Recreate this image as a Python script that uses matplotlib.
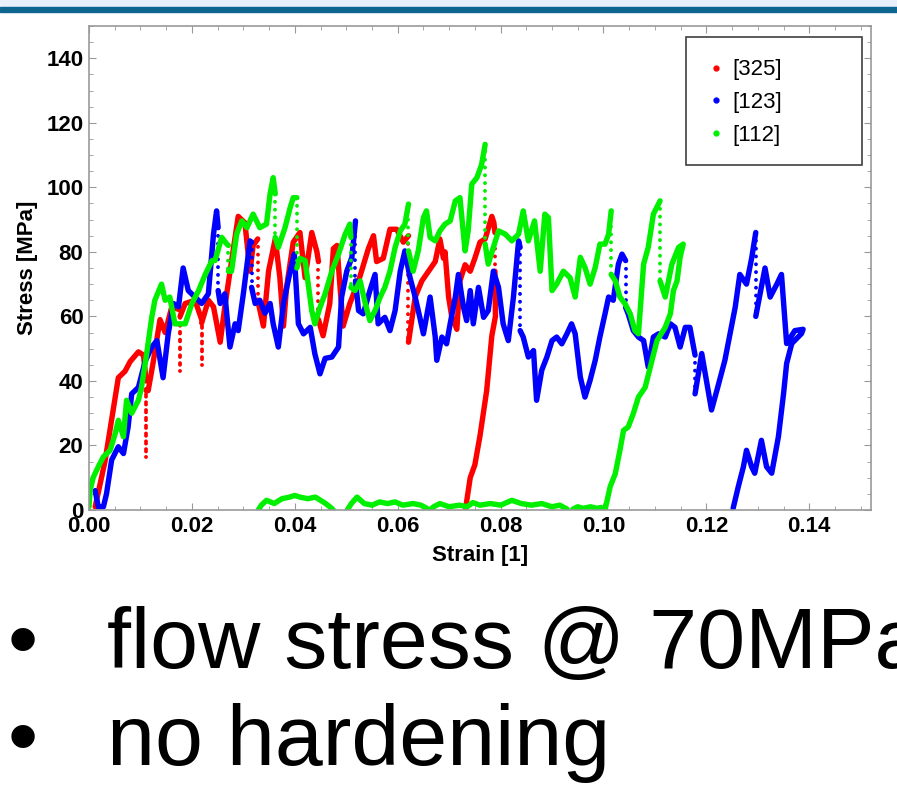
# stress-strain curves for three grain orientations

import numpy as np
import matplotlib.pyplot as plt
from matplotlib.patches import Rectangle
from matplotlib.ticker import MultipleLocator, FormatStrFormatter

plt.rcParams['font.family'] = ['Liberation Sans', 'DejaVu Sans']

# [325]
red_strain = [0.0012, 0.0031, 0.0044, 0.0057, 0.0070, 0.0080, 0.0096, 0.0106, 0.0111, 0.0111,
              0.0111, 0.0115, 0.0125, 0.0138, 0.0148, 0.0161, 0.0177, 0.0177, 0.0177, 0.0187,
              0.0206, 0.0219, 0.0219, 0.0219, 0.0232, 0.0242, 0.0255, 0.0264, 0.0277, 0.0290,
              0.0303, 0.0313, 0.0319, 0.0328, 0.0328, 0.0339, 0.0349, 0.0362, 0.0371, 0.0378,
              0.0384, 0.0397, 0.0410, 0.0420, 0.0433, 0.0443, 0.0446, 0.0446, 0.0455, 0.0468,
              0.0475, 0.0482, 0.0488, 0.0494, 0.0507, 0.0524, 0.0543, 0.0553, 0.0559, 0.0572,
              0.0585, 0.0598, 0.0611, 0.0621, 0.0621, 0.0634, 0.0647, 0.0673, 0.0682, 0.0689,
              0.0692, 0.0699, 0.0705, 0.0715, 0.0721, 0.0731, 0.0741, 0.0750, 0.0760, 0.0770,
              0.0783, 0.0787, 0.0789, 0.0789, 0.0790, 0.0783, 0.0773, 0.0760, 0.0750, 0.0741,
              0.0732]
red_stress = [1, 15, 28, 41, 43, 46, 49, 48, 40, 16.5,
              37, 37, 46, 59, 55, 63, 62, 43, 60, 64,
              65, 59, 45, 58, 65, 63, 52, 63, 77, 91,
              89, 74, 82, 84, 65, 57, 74, 84, 72, 57,
              69, 83, 86, 72, 86, 80, 77, 59, 54, 64,
              81, 82, 69, 57, 64, 71, 81, 85, 77, 78,
              87, 87, 83, 85, 52, 66, 71, 77, 84, 78,
              80, 66, 60, 56, 71, 76, 74, 78, 83, 84,
              91, 89, 86, 74, 60, 54, 37, 23, 14, 10,
              0.5]

# [123]
blue_strain = [0.0012, 0.0018, 0.0028, 0.0034, 0.0044, 0.0057, 0.0067, 0.0076, 0.0083, 0.0096,
               0.0109, 0.0122, 0.0132, 0.0144, 0.0154, 0.0164, 0.0174, 0.0183, 0.0193, 0.0206,
               0.0219, 0.0232, 0.0242, 0.0248, 0.0251, 0.0251, 0.0255, 0.0264, 0.0274, 0.0284,
               0.0290, 0.0300, 0.0313, 0.0316, 0.0316, 0.0323, 0.0332, 0.0342, 0.0352, 0.0358,
               0.0368, 0.0378, 0.0391, 0.0399, 0.0407, 0.0417, 0.0430, 0.0439, 0.0449, 0.0459,
               0.0472, 0.0485, 0.0491, 0.0501, 0.0511, 0.0518, 0.0518, 0.0524, 0.0533, 0.0546,
               0.0556, 0.0562, 0.0575, 0.0585, 0.0595, 0.0605, 0.0614, 0.0624, 0.0634, 0.0643,
               0.0650, 0.0663, 0.0673, 0.0676, 0.0686, 0.0695, 0.0702, 0.0712, 0.0718, 0.0728,
               0.0734, 0.0741, 0.0747, 0.0757, 0.0767, 0.0776, 0.0786, 0.0796, 0.0805, 0.0815,
               0.0825, 0.0835, 0.0838, 0.0838, 0.0844, 0.0854, 0.0864, 0.0870, 0.0880, 0.0890,
               0.0900, 0.0909, 0.0919, 0.0929, 0.0938, 0.0945, 0.0955, 0.0964, 0.0974, 0.0984,
               0.0993, 0.1003, 0.1010, 0.1019, 0.1029, 0.1036, 0.1043, 0.1043, 0.1048, 0.1058,
               0.1068, 0.1078, 0.1087, 0.1097, 0.1107, 0.1120, 0.1130, 0.1139, 0.1149, 0.1159,
               0.1168, 0.1178, 0.1178, 0.1191, 0.1210, 0.1222, 0.1236, 0.1256, 0.1265, 0.1278,
               0.1288, 0.1296, 0.1296, 0.1314, 0.1324, 0.1337, 0.1346, 0.1356, 0.1372, 0.1388,
               0.1385, 0.1366, 0.1356, 0.1350, 0.1340, 0.1327, 0.1317, 0.1307, 0.1294, 0.1288,
               0.1278, 0.1272, 0.1262, 0.1252]
blue_stress = [6, 1, 1, 5, 15.5, 19.6, 17.5, 25.7, 36, 38,
               46, 50.5, 52.5, 41, 54.6, 64, 63, 75, 68, 66,
               64, 67, 85.5, 92.7, 87.5, 68, 64, 67, 50.5, 57.7,
               55.6, 67, 83.4, 83, 69, 64, 65, 61, 64, 57.7,
               50.5, 64, 74, 79.3, 57.7, 54.6, 56.6, 48.4, 42.2, 47,
               47.4, 50.5, 66, 74, 78.3, 89.6, 71, 61.8, 60.8, 68,
               73, 57.7, 59.7, 55.6, 61.8, 74, 80.3, 72, 66, 59.7,
               54.6, 66, 53.6, 46.4, 53.6, 51.5, 57.7, 66, 73, 62.8,
               58.7, 68, 57.7, 69, 59.7, 61.8, 74, 69, 57.7, 52.5,
               66, 83.4, 81.4, 55.6, 53.6, 47.4, 49.4, 34, 43.3, 47.4,
               52.5, 53.6, 51.5, 54.6, 57.7, 54.6, 41.2, 35, 40.2, 46.4,
               53.6, 60.8, 66, 65, 76.2, 79.3, 77.3, 62.8, 60.8, 55.6,
               53.6, 52.5, 44.3, 53.6, 54.6, 53.6, 57.7, 56.6, 50.5, 56.6,
               56.6, 48, 36, 48.5, 31, 38, 46.4, 62.8, 73, 70,
               78, 86, 60, 75, 66, 70, 73, 51.6, 55.6, 56,
               54.7, 51.6, 45.4, 36, 22.7, 11.4, 13.4, 21.6, 11.4, 13.4,
               18.5, 13.4, 7.2, 0.5]

# [112]
green_strain = [0.0000, 0.0002, 0.0008, 0.0018, 0.0028, 0.0041, 0.0051, 0.0057, 0.0067, 0.0073,
                0.0083, 0.0096, 0.0102, 0.0112, 0.0122, 0.0128, 0.0141, 0.0148, 0.0157, 0.0167,
                0.0177, 0.0187, 0.0200, 0.0213, 0.0226, 0.0239, 0.0245, 0.0258, 0.0268, 0.0271,
                0.0271, 0.0277, 0.0287, 0.0297, 0.0307, 0.0319, 0.0332, 0.0345, 0.0352, 0.0358,
                0.0362, 0.0362, 0.0368, 0.0381, 0.0391, 0.0397, 0.0404, 0.0404, 0.0410, 0.0420,
                0.0433, 0.0439, 0.0449, 0.0459, 0.0472, 0.0485, 0.0498, 0.0507, 0.0509, 0.0509,
                0.0517, 0.0527, 0.0537, 0.0546, 0.0556, 0.0566, 0.0575, 0.0585, 0.0595, 0.0605,
                0.0614, 0.0621, 0.0621, 0.0630, 0.0640, 0.0650, 0.0656, 0.0663, 0.0673, 0.0682,
                0.0692, 0.0702, 0.0712, 0.0721, 0.0731, 0.0737, 0.0744, 0.0754, 0.0763, 0.0770,
                0.0770, 0.0776, 0.0786, 0.0796, 0.0809, 0.0822, 0.0835, 0.0844, 0.0854, 0.0866,
                0.0877, 0.0886, 0.0893, 0.0900, 0.0909, 0.0922, 0.0935, 0.0945, 0.0955, 0.0964,
                0.0974, 0.0984, 0.0993, 0.1003, 0.1010, 0.1015, 0.1015, 0.1023, 0.1032, 0.1042,
                0.1052, 0.1061, 0.1068, 0.1078, 0.1087, 0.1097, 0.1110, 0.1110, 0.1120, 0.1133,
                0.1146, 0.1155, 0.1149, 0.1143, 0.1136, 0.1130, 0.1120, 0.1104, 0.1091, 0.1081,
                0.1068, 0.1058, 0.1048, 0.1039, 0.1032, 0.1023, 0.1013, 0.1003, 0.0995, 0.0987,
                0.0975, 0.0960, 0.0950, 0.0941, 0.0935, 0.0929, 0.0915, 0.0900, 0.0880, 0.0860,
                0.0840, 0.0822, 0.0800, 0.0780, 0.0760, 0.0746, 0.0735, 0.0720, 0.0700, 0.0682,
                0.0670, 0.0666, 0.0660, 0.0657, 0.0645, 0.0630, 0.0610, 0.0595, 0.0580, 0.0565,
                0.0550, 0.0535, 0.0521, 0.0510, 0.0504, 0.0490, 0.0472, 0.0460, 0.0450, 0.0440,
                0.0425, 0.0410, 0.0400, 0.0390, 0.0375, 0.0360, 0.0345, 0.0335, 0.0329]
green_stress = [1, 6, 10, 13.4, 16.5, 18.5, 23.7, 27.8, 22.7, 34,
                30, 34, 38, 48.4, 59.7, 65, 70, 65, 66, 57.7,
                57.7, 57.7, 64, 68, 73, 77.3, 77.3, 84.5, 82.4, 82,
                74, 74, 85.5, 89.6, 87.5, 91.7, 87.5, 88.6, 98, 103,
                98, 84.5, 81.4, 87.5, 93.7, 96.8, 96.8, 75, 78, 77.3,
                61.8, 57.7, 62.8, 67, 74, 79.3, 85.5, 88.6, 84.5, 69,
                68, 71, 64, 58.7, 61.8, 66, 69, 74, 81.4, 86.5,
                88.6, 94.8, 80.3, 74, 80.3, 90.6, 92.7, 84.5, 83.4, 86.5,
                88.6, 89.6, 95.8, 96.8, 80.3, 86.5, 101, 103, 107, 113.3,
                82.4, 76.2, 81.4, 86.5, 85.5, 83.4, 85.5, 92.7, 83.4, 89.6,
                74, 91.7, 90.6, 68, 70, 74, 72, 66, 78.3, 75.2,
                70, 75.2, 82.4, 82.4, 85.5, 92.7, 73, 71, 66, 63.9,
                60.8, 55.6, 54.6, 76.2, 81.4, 91.7, 95.8, 71, 66, 76.2,
                81.4, 82.4, 78.3, 71, 68, 60.8, 56.6, 52.5, 44.3, 38,
                35, 29.9, 25.7, 24.7, 18.5, 11.3, 7.2, 0, 0.8, 0.5,
                1, 0.5, 1, 0.3, -2, 0.3, 1.5, 1, 2, 1.5,
                2, 3, 1.5, 2, 1.5, 2.3, 1, 1.5, 1, 2,
                1, 0.5, -2, 0.5, 1.5, 2, 1.5, 2.5, 2, 2.5,
                1.5, 2, 4, 2, 0.5, -3, 0.5, 2, 3, 4,
                3.5, 4, 4.5, 4, 3.5, 2, 3, 1.5, 0]

labels = ['[325]', '[123]', '[112]']
colors = ['#ff0000', '#0000ff', '#00f000']
x_ticks = [0.00, 0.02, 0.04, 0.06, 0.08, 0.10, 0.12, 0.14]
y_ticks = [0, 20, 40, 60, 80, 100, 120, 140]
bullets = ['flow stress @ 70MPa', 'no hardening']


def draw(ax, strain, stress, color, label):
    x = np.array(strain)
    y = np.array(stress)
    # vertical drops (same strain) are drawn dotted, like the sparse points in the original
    steep = (np.abs(np.diff(x)) < 1e-5) & (np.abs(np.diff(y)) > 5)
    start = 0
    for i in range(len(x) - 1):
        if steep[i]:
            ax.plot(x[start:i + 1], y[start:i + 1], color=color, lw=3.9,
                    solid_joinstyle='round', solid_capstyle='round')
            ax.plot(x[i:i + 2], y[i:i + 2], color=color, lw=2.8,
                    ls=(0, (0.01, 2.0)), dash_capstyle='round')
            start = i + 1
    ax.plot(x[start:], y[start:], color=color, lw=3.9,
            solid_joinstyle='round', solid_capstyle='round')
    ax.plot([], [], 'o', color=color, ms=3.5, label=label)


fig = plt.figure(figsize=(8.97, 8.0), dpi=100)

# slide header band
fig.patches.append(Rectangle((0, 1 - 7 / 800), 1, 7 / 800, transform=fig.transFigure,
                             color='#e9f0fb', zorder=0))
fig.patches.append(Rectangle((0, 1 - 11.5 / 800), 1, 4.5 / 800, transform=fig.transFigure,
                             color='#0e6690', zorder=0))

ax = fig.add_axes([89 / 897, 1 - 510 / 800, 782 / 897, 484 / 800])

draw(ax, red_strain, red_stress, colors[0], labels[0])
draw(ax, blue_strain, blue_stress, colors[1], labels[1])
draw(ax, green_strain, green_stress, colors[2], labels[2])

ax.set_xlim(0, 0.152)
ax.set_ylim(0, 150)
ax.set_xticks(x_ticks)
ax.set_yticks(y_ticks)
ax.xaxis.set_major_formatter(FormatStrFormatter('%.2f'))
ax.xaxis.set_minor_locator(MultipleLocator(0.005))
ax.yaxis.set_minor_locator(MultipleLocator(5))
ax.tick_params(which='both', direction='in', top=True, right=True, color='#999999')
ax.tick_params(which='major', length=5, pad=4, labelsize=16)
ax.tick_params(which='minor', length=3)
for lab in ax.get_xticklabels() + ax.get_yticklabels():
    lab.set_fontweight('bold')
for sp in ax.spines.values():
    sp.set_color('#999999')
    sp.set_linewidth(1.2)

ax.set_xlabel('Strain [1]', fontsize=16, fontweight='bold', labelpad=6)
ax.set_ylabel('Stress [MPa]', fontsize=16, fontweight='bold', labelpad=6)

# legend box
ax.add_patch(Rectangle((0.7634, 0.7128), 0.2251, 0.2645, transform=ax.transAxes,
                       fill=False, edgecolor='#404040', lw=1.2, zorder=5))
ax.legend(loc='upper left', bbox_to_anchor=(0.792, 0.931), frameon=False,
          fontsize=16, borderpad=0, borderaxespad=0, handlelength=0.7,
          handletextpad=0.4, labelspacing=0.53)

# slide bullets
for yb, txt in zip([668, 765], bullets):
    fig.text(8 / 897, 1 - yb / 800, '\u2022', fontsize=62, va='baseline')
    fig.text(107 / 897, 1 - yb / 800, txt, fontsize=62, va='baseline')

fig.savefig('out.png', dpi=100)
